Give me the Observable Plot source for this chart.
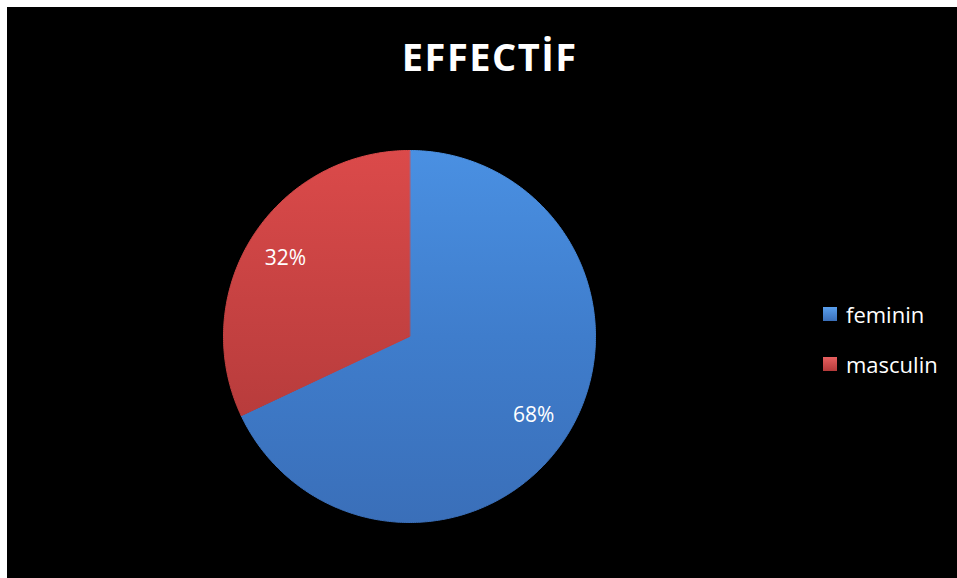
<!DOCTYPE html>
<html>
<head>
<meta charset="utf-8">
<script src="https://cdn.jsdelivr.net/npm/d3@7"></script>
<script src="https://cdn.jsdelivr.net/npm/@observablehq/plot@0.6"></script>
<style>
  html, body { margin: 0; padding: 0; background: #fff; }
  #frame { position: absolute; left: 7px; top: 7px; width: 950px; height: 571px; background: #000; overflow: hidden; font-family: "Open Sans", sans-serif; }
  #title { position: absolute; left: 282px; width: 400px; top: 30px; text-align: center; color: #fff; font-weight: 700; font-size: 38px; line-height: 1; letter-spacing: 1.5px; text-indent: 1.5px; }
  #chart { position: absolute; left: 0; top: 100px; }
  .leg { position: absolute; left: 816px; display: flex; align-items: center; height: 22px; color: #fff; font-size: 22px; line-height: 1; }
  .sw { width: 14px; height: 14px; margin-right: 9px; }
</style>
</head>
<body>
<div id="frame">
  <div id="title">EFFECTİF</div>
  <div id="chart"></div>
  <div id="legend"></div>
</div>
<script>
const title = "EFFECTİF";
const categories = ["feminin", "masculin"];
const values = [68, 32];
const labels = ["68%", "32%"];

const W = 950, H = 471, R = 186, CX = 402, CY = 229;

const arcs = d3.pie().sort(null).value(d => d)(values);
const rows = [];
arcs.forEach((a, i) => {
  rows.push({slice: categories[i], x: 0, y: 0});
  const n = Math.max(2, Math.ceil((a.endAngle - a.startAngle) / 0.01));
  for (let k = 0; k <= n; k++) {
    const t = a.startAngle + (a.endAngle - a.startAngle) * k / n;
    rows.push({slice: categories[i], x: Math.sin(t), y: Math.cos(t)});
  }
});
const labelRows = arcs.map((a, i) => {
  const m = (a.startAngle + a.endAngle) / 2;
  return {label: labels[i], x: 0.79 * Math.sin(m), y: 0.79 * Math.cos(m)};
});

const chart = Plot.plot({
  width: W, height: H,
  margin: 0,
  style: {background: "transparent", overflow: "visible"},
  x: {domain: [-CX / R, (W - CX) / R], range: [0, W], axis: null},
  y: {domain: [(CY - H) / R, CY / R], range: [H, 0], axis: null},
  color: {domain: categories, range: ["url(#gFem)", "url(#gMas)"]},
  marks: [
    Plot.line(rows, {x: "x", y: "y", z: "slice", fill: "slice", stroke: "slice", strokeWidth: 1, curve: "linear-closed"}),
    Plot.text(labelRows, {x: "x", y: "y", text: "label", fill: "#fff", fontSize: 21, fontFamily: "Open Sans"})
  ]
});
const defs = d3.select(chart).insert("defs", ":first-child");
function grad(id, stops) {
  const g = defs.append("linearGradient").attr("id", id).attr("x1", 0).attr("y1", 0).attr("x2", 0).attr("y2", 1);
  stops.forEach(([o, c]) => g.append("stop").attr("offset", o).attr("stop-color", c));
}
grad("gFem", [[0, "#4a90e2"], [0.5, "#3f7dcc"], [1, "#3a6fb9"]]);
grad("gMas", [[0, "#db4a4a"], [0.5, "#c94343"], [1, "#b83c3c"]]);
document.getElementById("chart").appendChild(chart);

const legend = document.getElementById("legend");
const legTops = [296, 346];
categories.forEach((c, i) => {
  const row = document.createElement("div");
  row.className = "leg";
  row.style.top = legTops[i] + "px";
  const sw = document.createElement("div");
  sw.className = "sw";
  sw.style.background = i === 0 ? "linear-gradient(#5aa0ee, #3a6fb9)" : "linear-gradient(#e86060, #b43a3a)";
  row.appendChild(sw);
  const t = document.createElement("span");
  t.textContent = c;
  row.appendChild(t);
  legend.appendChild(row);
});
</script>
</body>
</html>
